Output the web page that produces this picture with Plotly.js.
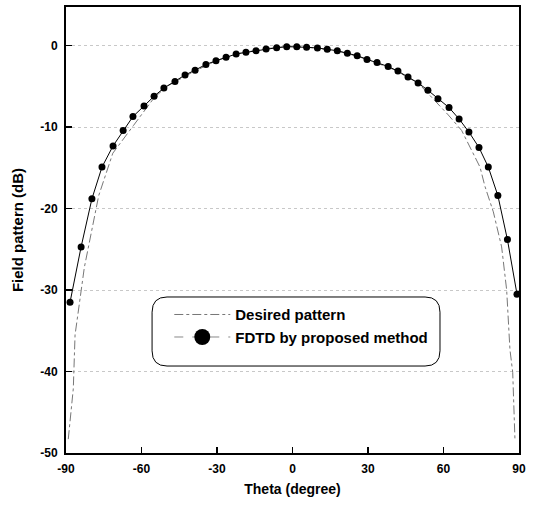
<!DOCTYPE html>
<html>
<head>
<meta charset="utf-8">
<script src="https://cdn.plot.ly/plotly-3.0.1.min.js"></script>
<style>html,body{margin:0;padding:0;background:#fff;}#chart{width:537px;height:506px;}</style>
</head>
<body>
<div id="chart"></div>
<script>
// FDTD by proposed method
var fdtdTheta = [-88.4,-84.0,-79.7,-75.7,-71.3,-67.3,-63.4,-59.0,-55.0,-51.1,-46.7,-42.7,-38.7,-34.4,-30.4,-26.4,-22.4,-18.5,-14.5,-10.5,-6.3,-2.3,
                 1.7,5.6,9.9,13.8,17.8,21.8,25.7,29.6,33.6,38.0,41.9,45.9,49.9,53.8,57.8,62.2,66.2,70.1,74.1,77.8,81.6,85.4,89.2];
var fdtdDb = [-31.5,-24.7,-18.8,-14.9,-12.3,-10.4,-8.7,-7.4,-6.2,-5.2,-4.4,-3.6,-3.0,-2.3,-1.85,-1.43,-1.02,-0.82,-0.62,-0.41,-0.25,-0.12,
              -0.12,-0.2,-0.28,-0.44,-0.62,-0.94,-1.22,-1.68,-2.05,-2.55,-3.12,-3.83,-4.57,-5.47,-6.5,-7.6,-9.0,-10.6,-12.5,-14.9,-18.4,-23.8,-30.5];
// Desired pattern
var desiredTheta = [-89.1,-88.1,-87.1,-86.4,-84.0,-82.7,-77.0,-71.4,-63.2,-55.0,-50.0,-40.0,-30.0,-20.0,-10.0,0,10,20,30,40,50,54.6,61.9,67.2,74.5,76.5,79.8,83.1,85.1,86.4,87.5,88.4];
var desiredDb = [-48.3,-45.3,-42.1,-35.5,-30.2,-27.2,-18.4,-13.2,-9.8,-6.4,-5.0,-3.3,-1.8,-0.85,-0.35,-0.05,-0.3,-0.8,-1.7,-2.9,-4.6,-6.1,-8.5,-10.4,-14.9,-17.3,-20.4,-24.7,-30.0,-37.3,-40.1,-48.4];
// Axis ticks
var xTickVals = [-90,-60,-30,0,30,60,90];
var xTickText = ['-90','-60','-30','0','30','60','90'];
var yTickVals = [0,-10,-20,-30,-40,-50];
var yTickText = ['0','-10','-20','-30','-40','-50'];
var seriesNames = ['Desired pattern','FDTD by proposed method'];

var font = {family:'Liberation Sans, Arial, sans-serif', color:'#000', weight:'bold'};

var traces = [
  {x: desiredTheta, y: desiredDb, mode:'lines', name: seriesNames[0],
   line:{color:'#777', width:1, dash:'dashdot'}, showlegend:true},
  {x: fdtdTheta, y: fdtdDb, mode:'lines+markers', name: seriesNames[1],
   line:{color:'#000', width:1}, marker:{color:'#000', size:7}, showlegend:false},
  {x:[null], y:[null], mode:'lines+markers', name: seriesNames[1],
   line:{color:'#888', width:1, dash:'dash'}, marker:{color:'#000', size:16}, showlegend:true}
];

function roundRect(x0,y0,x1,y1,rx,ry){
  return 'M'+(x0+rx)+','+y1+' L'+(x1-rx)+','+y1+' Q'+x1+','+y1+' '+x1+','+(y1-ry)+
         ' L'+x1+','+(y0+ry)+' Q'+x1+','+y0+' '+(x1-rx)+','+y0+
         ' L'+(x0+rx)+','+y0+' Q'+x0+','+y0+' '+x0+','+(y0+ry)+
         ' L'+x0+','+(y1-ry)+' Q'+x0+','+y1+' '+(x0+rx)+','+y1+' Z';
}

var layout = {
  width:537, height:506,
  margin:{l:66, r:18, t:7, b:53},
  paper_bgcolor:'#fff', plot_bgcolor:'#fff',
  showlegend:true,
  legend:{x:0.228, xanchor:'left', y:0.347, yanchor:'top', bgcolor:'rgba(0,0,0,0)', borderwidth:0,
          font:Object.assign({}, font, {size:15}), itemwidth:56, tracegroupgap:0},
  xaxis:{range:[-90,90], tickvals:xTickVals, ticktext:xTickText, ticks:'inside', ticklen:6, tickwidth:1.5, tickcolor:'#000',
         showline:true, linecolor:'#000', linewidth:2, mirror:true, showgrid:false, zeroline:false,
         tickfont:Object.assign({}, font, {size:12}), ticklabelstandoff:4,
         title:{text:'Theta (degree)', font:Object.assign({}, font, {size:14}), standoff:9}},
  yaxis:{range:[-50,4.75], tickvals:yTickVals, ticktext:yTickText, ticks:'inside', ticklen:6, tickwidth:1.5, tickcolor:'#000',
         showline:true, linecolor:'#000', linewidth:2, mirror:true, showgrid:true, gridcolor:'#c8c8c8', griddash:'dot', gridwidth:1,
         zeroline:false, tickfont:Object.assign({}, font, {size:12}), ticklabelstandoff:4,
         title:{text:'Field pattern (dB)', font:Object.assign({}, font, {size:15}), standoff:13}},
  shapes:[{type:'path', xref:'paper', yref:'paper', path: roundRect(0.19,0.195,0.8256,0.3498,0.033,0.034),
           line:{color:'#000', width:1}, fillcolor:'rgba(0,0,0,0)'}]
};

Plotly.newPlot('chart', traces, layout, {displayModeBar:false, staticPlot:true});
</script>
</body>
</html>
